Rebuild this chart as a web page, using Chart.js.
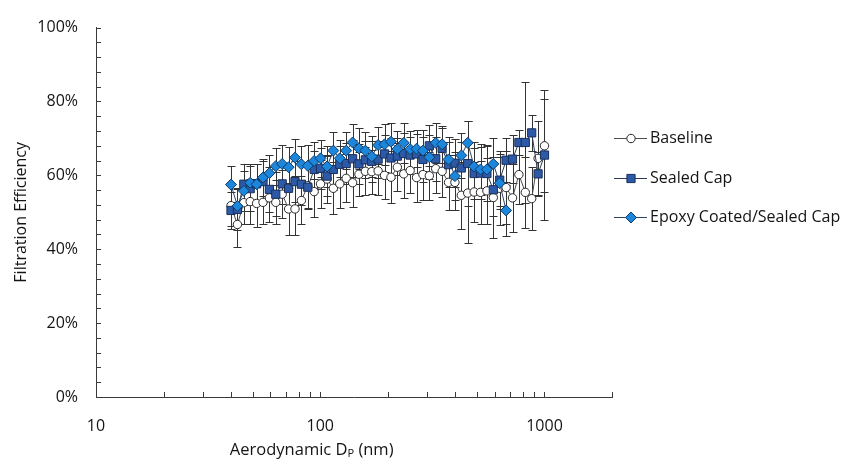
<!DOCTYPE html>
<html>
<head>
<meta charset="utf-8">
<script src="https://cdn.jsdelivr.net/npm/chart.js@4.4.1/dist/chart.umd.min.js"></script>
<style>
  html, body { margin: 0; padding: 0; background: #ffffff; }
  #wrap { width: 848px; height: 465px; }
</style>
</head>
<body>
<div id="wrap"><canvas id="chart" width="848" height="465"></canvas></div>
<script>
// Particle size bins (aerodynamic diameter, nm)
const sizesNm = [40.0, 42.72, 45.62, 48.71, 52.02, 55.55, 59.32, 63.35, 67.65, 72.25,
  77.15, 82.39, 87.98, 93.96, 100.3, 107.2, 114.4, 122.2, 130.5, 139.4,
  148.8, 158.9, 169.7, 181.2, 193.5, 206.7, 220.7, 235.7, 251.7, 268.8,
  287.0, 306.5, 327.3, 349.6, 373.3, 398.6, 425.7, 454.6, 485.5, 518.4,
  553.6, 591.2, 631.4, 674.2, 720.0, 768.9, 821.1, 876.9, 936.4, 1000];

// Filtration efficiency (%) and standard deviation (%) per bin
const baseline = [51.8, 46.7, 52.6, 52.9, 52.4, 52.7, 53.9, 52.7, 54.9, 50.9,
  50.9, 53.2, 57.2, 55.6, 57.7, 59.0, 56.5, 57.7, 59.2, 58.0,
  60.3, 61.1, 61.0, 61.2, 60.0, 59.5, 62.2, 60.4, 61.3, 59.4,
  60.2, 59.9, 61.8, 61.1, 58.1, 58.1, 54.6, 55.2, 55.5, 55.4,
  55.8, 54.0, 56.5, 56.7, 53.9, 60.2, 55.4, 53.7, 64.6, 68.0];
const baselineSd = [5.5, 6.2, 5.8, 6.0, 6.5, 6.0, 6.5, 6.0, 6.5, 7.0,
  7.0, 6.5, 6.0, 7.0, 6.5, 6.5, 7.0, 6.5, 6.5, 6.5,
  6.0, 6.5, 6.0, 6.5, 6.5, 7.0, 6.5, 6.5, 6.0, 6.5,
  7.0, 6.5, 6.5, 7.0, 7.5, 7.5, 9.0, 13.5, 8.0, 8.5,
  9.0, 11.0, 10.0, 10.0, 9.2, 8.0, 9.7, 8.5, 10.0, 12.6];

const sealedCap = [50.5, 50.8, 57.6, 56.4, 57.7, 58.3, 56.2, 54.9, 57.7, 56.5,
  58.3, 57.6, 56.8, 61.6, 61.9, 59.8, 61.6, 63.0, 63.2, 64.5,
  63.1, 64.2, 63.8, 64.4, 65.8, 64.7, 65.2, 65.9, 65.5, 65.8,
  64.3, 68.0, 64.5, 67.3, 62.9, 63.3, 62.0, 63.2, 60.5, 60.6,
  60.5, 56.1, 58.7, 64.1, 64.4, 68.9, 68.9, 71.5, 60.4, 65.5];
const sealedCapSd = [5.0, 5.5, 5.5, 6.0, 5.5, 5.5, 6.0, 6.0, 5.5, 6.0,
  5.5, 5.5, 6.0, 5.0, 5.5, 5.5, 5.5, 5.0, 5.5, 5.0,
  5.5, 5.0, 5.5, 5.0, 5.0, 5.5, 5.0, 5.5, 5.0, 5.5,
  6.0, 5.5, 6.0, 5.5, 6.0, 6.5, 7.0, 11.5, 7.0, 7.0,
  7.5, 7.0, 7.0, 6.0, 6.5, 3.5, 16.3, 4.9, 6.0, 17.5];

const epoxySealed = [57.5, 51.7, 55.8, 58.0, 57.6, 59.4, 60.6, 62.5, 63.1, 62.2,
  64.8, 63.0, 62.6, 63.9, 64.6, 62.4, 66.7, 64.6, 66.7, 68.9,
  67.3, 66.7, 65.1, 68.2, 68.4, 69.1, 67.1, 68.8, 67.1, 67.2,
  66.7, 64.9, 68.8, 68.4, 64.3, 59.8, 65.4, 68.8, 62.4, 61.6,
  61.6, 63.1, 57.9, 50.5];
const epoxySealedSd = [5.0, 5.0, 5.5, 5.0, 5.5, 5.0, 5.0, 5.0, 5.0, 5.5,
  5.0, 5.0, 5.5, 5.0, 5.0, 5.5, 5.0, 5.0, 5.0, 5.0,
  5.5, 5.0, 5.5, 5.0, 5.5, 5.0, 5.0, 5.5, 5.0, 5.0,
  5.5, 6.0, 5.5, 5.0, 6.0, 6.5, 6.0, 6.0, 6.5, 7.0,
  6.5, 7.0, 7.0, 6.8];

const seriesNames = ['Baseline', 'Sealed Cap', 'Epoxy Coated/Sealed Cap'];
const xLabelValues = [10, 100, 1000];
const xMinorTicks = [10, 20, 30, 40, 50, 60, 70, 80, 90, 100, 200, 300, 400, 500, 600, 700, 800, 900, 1000, 2000];
const yMinorStep = 4;

const FONT = "'Open Sans', 'Liberation Sans', sans-serif";
const TEXT = '#141414';
const AXIS = '#3a3a3a';

const toPoints = (vals) => vals.map((v, i) => ({ x: sizesNm[i], y: v }));

const datasets = [
  {
    label: seriesNames[0], data: toPoints(baseline), errors: baselineSd,
    borderColor: '#4d4d4d', borderWidth: 1,
    pointStyle: 'circle', pointRadius: 4.2, pointBackgroundColor: '#ffffff',
    pointBorderColor: '#262626', pointBorderWidth: 1, order: 2
  },
  {
    label: seriesNames[1], data: toPoints(sealedCap), errors: sealedCapSd,
    borderColor: '#2e3b55', borderWidth: 1,
    pointStyle: 'rect', pointRadius: 5.8, pointBackgroundColor: '#2d5aa6',
    pointBorderColor: '#1a2f5c', pointBorderWidth: 1, order: 1
  },
  {
    label: seriesNames[2], data: toPoints(epoxySealed), errors: epoxySealedSd,
    borderColor: '#2c4566', borderWidth: 1,
    pointStyle: 'rectRot', pointRadius: 5.5, pointBackgroundColor: '#1c86db',
    pointBorderColor: '#0d3b6c', pointBorderWidth: 1, order: 0
  }
];

// Vertical error bars with caps, drawn beneath the markers
const errorBars = {
  id: 'errorBars',
  beforeDatasetsDraw(chart) {
    const { ctx, scales: { x, y } } = chart;
    ctx.save();
    ctx.strokeStyle = '#333333';
    ctx.lineWidth = 1;
    chart.data.datasets.forEach((ds) => {
      ds.data.forEach((p, i) => {
        const e = ds.errors[i];
        const px = Math.round(x.getPixelForValue(p.x)) + 0.5;
        const yt = Math.round(y.getPixelForValue(p.y + e)) + 0.5;
        const yb = Math.round(y.getPixelForValue(p.y - e)) + 0.5;
        ctx.beginPath();
        ctx.moveTo(px, yt); ctx.lineTo(px, yb);
        ctx.moveTo(px - 4, yt); ctx.lineTo(px + 4, yt);
        ctx.moveTo(px - 4, yb); ctx.lineTo(px + 4, yb);
        ctx.stroke();
      });
    });
    ctx.restore();
  }
};

// Inward tick marks on both axes
const innerTicks = {
  id: 'innerTicks',
  afterDraw(chart) {
    const { ctx, chartArea: a, scales: { x, y } } = chart;
    ctx.save();
    ctx.strokeStyle = AXIS;
    ctx.lineWidth = 1;
    ctx.beginPath();
    for (let v = y.min; v <= y.max + 1e-9; v += yMinorStep) {
      const py = Math.round(y.getPixelForValue(v)) + 0.5;
      ctx.moveTo(a.left, py); ctx.lineTo(a.left + 5, py);
    }
    xMinorTicks.forEach((v) => {
      const px = Math.round(x.getPixelForValue(v)) + 0.5;
      ctx.moveTo(px, a.bottom); ctx.lineTo(px, a.bottom - 5);
    });
    ctx.stroke();
    ctx.restore();
  }
};

function drawMarker(ctx, ds, cx, cy) {
  const r = ds.pointRadius;
  ctx.beginPath();
  if (ds.pointStyle === 'circle') {
    ctx.arc(cx, cy, r, 0, Math.PI * 2);
  } else if (ds.pointStyle === 'rect') {
    const s = Math.SQRT1_2 * r;
    ctx.rect(cx - s, cy - s, 2 * s, 2 * s);
  } else {
    ctx.moveTo(cx - r, cy); ctx.lineTo(cx, cy - r);
    ctx.lineTo(cx + r, cy); ctx.lineTo(cx, cy + r);
    ctx.closePath();
  }
  ctx.fillStyle = ds.pointBackgroundColor;
  ctx.fill();
  ctx.lineWidth = ds.pointBorderWidth;
  ctx.strokeStyle = ds.pointBorderColor;
  ctx.stroke();
}

// Axis titles and the line-and-marker legend
const annotations = {
  id: 'annotations',
  afterDraw(chart) {
    const { ctx, chartArea: a } = chart;
    ctx.save();
    ctx.fillStyle = TEXT;
    ctx.textBaseline = 'middle';

    // y title
    ctx.save();
    ctx.translate(21, (a.top + a.bottom) / 2);
    ctx.rotate(-Math.PI / 2);
    ctx.textAlign = 'center';
    ctx.font = `16px ${FONT}`;
    ctx.fillText('Filtration Efficiency', 0, 0);
    ctx.restore();

    // x title with subscript
    const main = 'Aerodynamic D', sub = 'P', tail = ' (nm)';
    ctx.font = `16.5px ${FONT}`;
    const w1 = ctx.measureText(main).width;
    const w3 = ctx.measureText(tail).width;
    ctx.font = `11px ${FONT}`;
    const w2 = ctx.measureText(sub).width;
    const total = w1 + w2 + w3;
    const cx = a.left + (a.right - a.left) * 0.418;
    const tx = cx - total / 2;
    const ty = 450;
    ctx.textAlign = 'left';
    ctx.font = `16.5px ${FONT}`;
    ctx.fillText(main, tx, ty);
    ctx.font = `11px ${FONT}`;
    ctx.fillText(sub, tx + w1, ty + 4);
    ctx.font = `16.5px ${FONT}`;
    ctx.fillText(tail, tx + w1 + w2, ty);

    // legend
    const lx = a.right + 2;
    const rows = [138, 178, 217];
    chart.data.datasets.forEach((ds, i) => {
      const ly = rows[i];
      ctx.beginPath();
      ctx.strokeStyle = ds.borderColor;
      ctx.lineWidth = 1;
      ctx.moveTo(lx, ly + 0.5); ctx.lineTo(lx + 33, ly + 0.5);
      ctx.stroke();
      drawMarker(ctx, ds, lx + 17, ly + 0.5);
      ctx.fillStyle = TEXT;
      ctx.font = `16px ${FONT}`;
      ctx.textAlign = 'left';
      ctx.fillText(ds.label, lx + 36, ly);
    });
    ctx.restore();
  }
};

new Chart(document.getElementById('chart'), {
  type: 'line',
  data: { datasets },
  options: {
    responsive: false,
    animation: false,
    devicePixelRatio: 1,
    layout: { padding: { top: 20, right: 236, left: 0, bottom: 0 } },
    elements: { line: { tension: 0 } },
    plugins: { legend: { display: false }, tooltip: { enabled: false } },
    scales: {
      x: {
        type: 'logarithmic', min: 10, max: 2000,
        grid: { display: false, drawTicks: false },
        border: { display: true, color: AXIS, width: 1 },
        afterBuildTicks: (scale) => { scale.ticks = xLabelValues.map((v) => ({ value: v })); },
        afterFit: (scale) => { scale.height = 68; },
        ticks: {
          autoSkip: false, maxRotation: 0, padding: 20,
          color: TEXT, font: { family: FONT, size: 16 },
          callback: (v) => String(v)
        }
      },
      y: {
        min: 0, max: 100,
        grid: { display: false, drawTicks: false },
        border: { display: true, color: AXIS, width: 1 },
        afterFit: (scale) => { scale.width = 96; },
        ticks: {
          stepSize: 20, padding: 18,
          color: TEXT, font: { family: FONT, size: 16 },
          callback: (v) => v + '%'
        }
      }
    }
  },
  plugins: [errorBars, innerTicks, annotations]
});
</script>
</body>
</html>
